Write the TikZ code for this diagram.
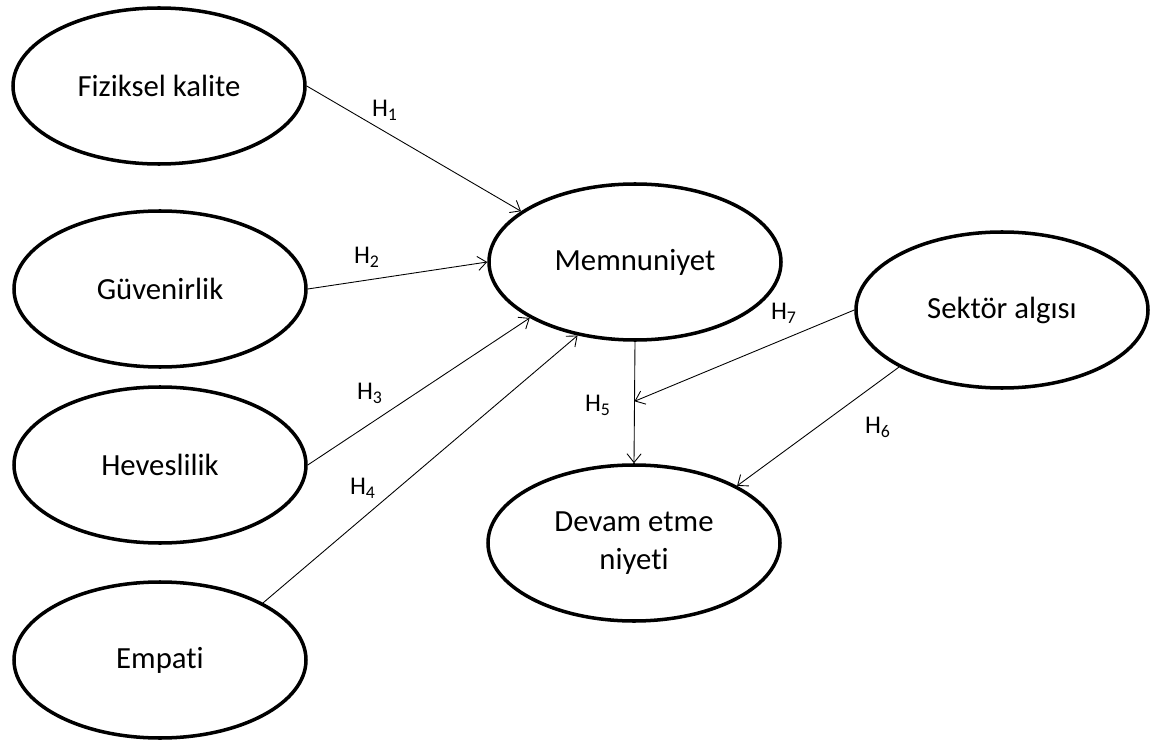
\documentclass[tikz,border=0pt]{standalone}
\usepackage{fontspec}
\setmainfont{Carlito}[Ligatures={NoCommon}]
\usetikzlibrary{shapes.geometric, arrows.meta}

\begin{document}
\begin{tikzpicture}[
    construct/.style={
        ellipse,
        draw,
        line width=2pt,
        minimum width=5.84cm,
        minimum height=3.12cm,
        inner sep=0pt,
        align=center,
        font=\fontsize{17.5}{22}\selectfont
    },
    link/.style={
        -{Straight Barb[length=5pt,width=8pt]},
        line width=0.5pt
    },
    hyp/.style={
        inner sep=1pt,
        font=\fontsize{14.5}{16}\selectfont
    }
]
\useasboundingbox (0,0) rectangle (23.14,-14.84);

\node[construct] (fiziksel) at (3.18,-1.72) {Fiziksel kalite};
\node[construct] (guven) at (3.20,-5.78) {Güvenirlik};
\node[construct] (heves) at (3.20,-9.30) {Heveslilik};
\node[construct] (empati) at (3.20,-13.20) {Empati};

\node[construct] (memnun) at (12.70,-5.24) {Memnuniyet};
\node[construct] (devam) at (12.68,-10.86) {Devam etme\\niyeti};
\node[construct] (sektor) at (20.04,-6.20) {Sektör algısı};

\draw[link] (fiziksel.east) -- (memnun.156);
\draw[link] (guven.east) -- (memnun.west);
\draw[link] (heves.east) -- (memnun.208);
\draw[link] (empati.29) -- (memnun.232);
\draw[link] (memnun.south) -- coordinate[pos=0.49] (meet) (devam.north);
\draw[link] (sektor.west) -- (meet);
\draw[link] (sektor.209) -- (devam.29);

\node[hyp] (h1) at (7.70,-2.20) {H\textsubscript{1}};
\node[hyp] (h2) at (7.34,-5.14) {H\textsubscript{2}};
\node[hyp] (h3) at (7.40,-7.86) {H\textsubscript{3}};
\node[hyp] (h4) at (7.26,-9.76) {H\textsubscript{4}};
\node[hyp] (h5) at (11.96,-8.10) {H\textsubscript{5}};
\node[hyp] (h6) at (17.56,-8.54) {H\textsubscript{6}};
\node[hyp] (h7) at (15.68,-6.26) {H\textsubscript{7}};

\end{tikzpicture}
\end{document}
